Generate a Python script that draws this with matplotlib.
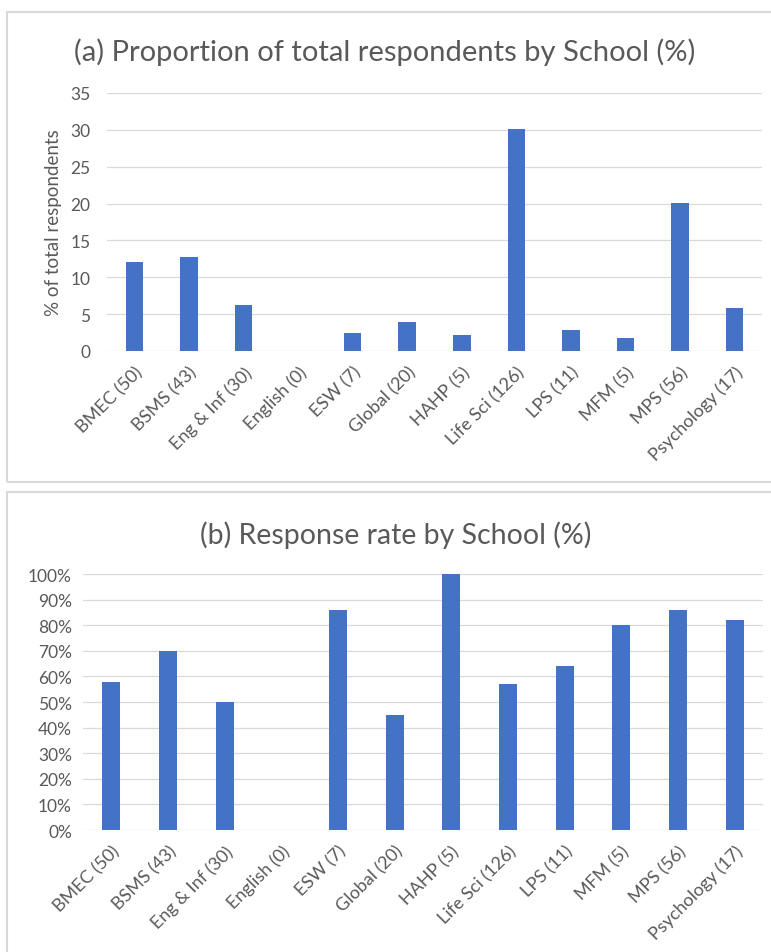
import matplotlib
matplotlib.use("Agg")
import matplotlib.pyplot as plt
from matplotlib.patches import Rectangle
from matplotlib.ticker import FuncFormatter

schools = ["BMEC (50)", "BSMS (43)", "Eng & Inf (30)", "English (0)", "ESW (7)",
           "Global (20)", "HAHP (5)", "Life Sci (126)", "LPS (11)", "MFM (5)",
           "MPS (56)", "Psychology (17)"]
share_pct = [12.1, 12.7, 6.3, 0, 2.5, 3.9, 2.2, 30.1, 2.9, 1.8, 20.1, 5.9]
response_rate = [0.58, 0.70, 0.50, 0, 0.86, 0.45, 1.00, 0.57, 0.64, 0.80, 0.86, 0.82]

BAR = "#4472C4"
TXT = "#595959"
GRID = "#d9d9d9"
plt.rcParams["font.family"] = ["Lato", "DejaVu Sans"]

fig = plt.figure(figsize=(7.71, 9.53), dpi=100)
W, H = 771, 953

# chart frames
for (x0, y0, x1, y1) in [(7, 13, 790, 483), (7, 493, 790, 970)]:
    fig.add_artist(Rectangle((x0 / W, 1 - y1 / H), (x1 - x0) / W, (y1 - y0) / H,
                             transform=fig.transFigure, fill=False,
                             edgecolor=GRID, linewidth=1.5))


def style(ax):
    for s in ax.spines.values():
        s.set_visible(False)
    ax.grid(axis="y", color=GRID, linewidth=0.9)
    ax.set_axisbelow(True)
    ax.tick_params(length=0, colors=TXT, labelsize=12.5)
    ax.set_xlim(-0.5, len(schools) - 0.5)
    ax.set_xticks(range(len(schools)))
    ax.set_xticklabels(schools, rotation=45, ha="right", rotation_mode="anchor",
                       color=TXT, fontsize=13)
    ax.tick_params(axis="x", pad=9)
    ax.tick_params(axis="y", pad=12)


# (a)
ax1 = fig.add_axes([107 / W, 1 - 352 / H, 655 / W, 258 / H])
ax1.bar(range(len(schools)), share_pct, width=0.32, color=BAR)
ax1.set_ylim(0, 35)
ax1.set_yticks(range(0, 36, 5))
style(ax1)
ax1.set_ylabel("% of total respondents", color=TXT, fontsize=13.5, labelpad=6)
fig.text(385 / W, 1 - 52 / H, "(a) Proportion of total respondents by School (%)",
         ha="center", va="center", color=TXT, fontsize=21)

# (b)
ax2 = fig.add_axes([83 / W, 1 - 831 / H, 680 / W, 256 / H])
ax2.bar(range(len(schools)), response_rate, width=0.32, color=BAR)
ax2.set_ylim(0, 1)
ax2.set_yticks([i / 10 for i in range(11)])
ax2.yaxis.set_major_formatter(FuncFormatter(lambda v, _: f"{v:.0%}"))
style(ax2)
ax2.tick_params(axis="y", pad=8)
fig.text(396 / W, 1 - 535 / H, "(b) Response rate by School (%)",
         ha="center", va="center", color=TXT, fontsize=20.5)

fig.savefig("out.png", dpi=100)
